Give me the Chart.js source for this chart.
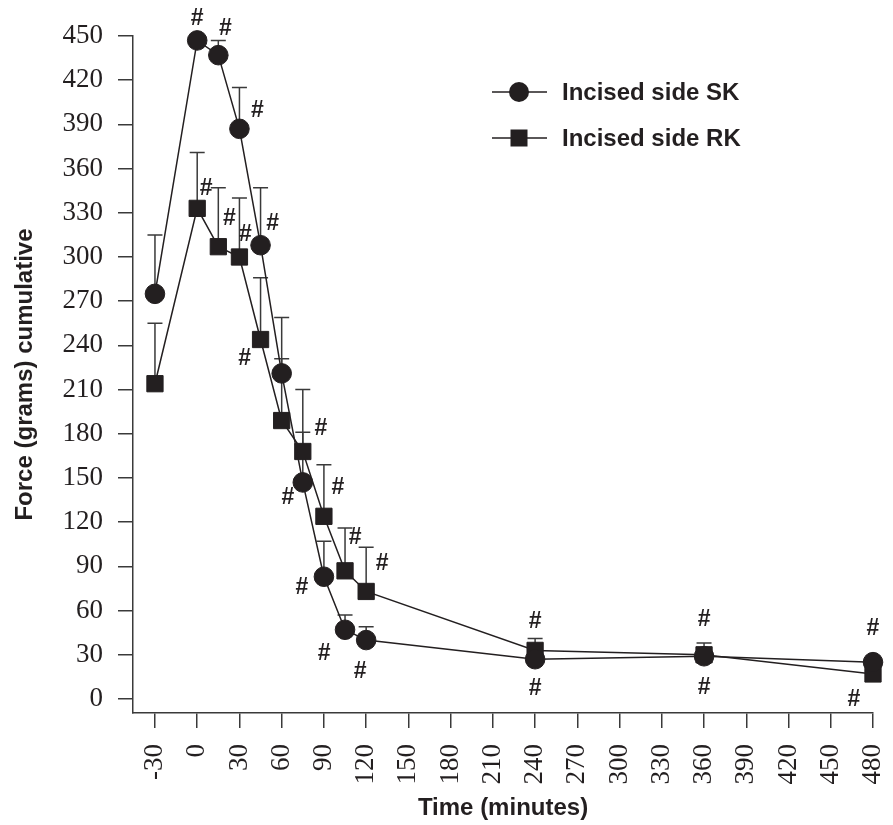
<!DOCTYPE html>
<html>
<head>
<meta charset="utf-8">
<script src="https://cdn.jsdelivr.net/npm/chart.js@4.4.1/dist/chart.umd.min.js"></script>
<style>
html, body { margin: 0; padding: 0; background: #ffffff; }
#wrap { width: 893px; height: 825px; }
</style>
</head>
<body>
<div id="wrap"><canvas id="c" width="893" height="825"></canvas></div>
<script>
// ---- data ----
const times = [-30, 0, 15, 30, 45, 60, 75, 90, 105, 120, 240, 360, 480];
const skValues = [275, 447, 437, 387, 308, 221, 147, 83, 47, 40, 27, 29, 25];
const skErrors = [40, 3, 10, 28, 39, 38, 34, 24, 10, 9, 4, 4, 3];
const rkValues = [214, 333, 307, 300, 244, 189, 168, 124, 87, 73, 33, 30, 17];
const rkErrors = [41, 38, 40, 40, 42, 42, 42, 35, 29, 30, 8, 8, 3];
const skSignificant = [0, 1, 1, 1, 1, 0, 1, 1, 1, 1, 1, 1, 1];
const rkSignificant = [0, 1, 1, 1, 1, 0, 1, 1, 1, 1, 1, 1, 1];
const xTickValues = [-30, 0, 30, 60, 90, 120, 150, 180, 210, 240, 270, 300, 330, 360, 390, 420, 450, 480];
const yTickValues = [0, 30, 60, 90, 120, 150, 180, 210, 240, 270, 300, 330, 360, 390, 420, 450];
const seriesLabels = ['Incised side SK', 'Incised side RK'];
const xTitle = 'Time (minutes)';
const yTitle = 'Force (grams) cumulative';

// ---- styles ----
const INK = '#231f20';
const AXIS = '#3a3a3a';
// pixel offsets of the "#" marks relative to their point (style only)
const skHashOffsets = [null, [0, -22], [7, -26], [18, -18], [12, -22], null, [-15, 15], [-22, 11], [-21, 24], [-6, 32], [0, 29], [0, 31], [0, -34]];
const rkHashOffsets = [null, [9, -20], [11, -28], [6, -22], [-16, 19], null, [18, -23], [14, -29], [10, -33], [16, -28], [0, -29], [0, -35], [-19, 26]];

const errorBarPlugin = {
  id: 'errorBars',
  beforeDatasetsDraw(chart) {
    const ctx = chart.ctx;
    const yScale = chart.scales.y;
    ctx.save();
    ctx.strokeStyle = AXIS;
    ctx.lineWidth = 1.5;
    chart.data.datasets.forEach((ds, di) => {
      const meta = chart.getDatasetMeta(di);
      const errs = ds.errors;
      meta.data.forEach((pt, i) => {
        const v = ds.data[i].y;
        const top = yScale.getPixelForValue(v + errs[i]);
        ctx.beginPath();
        ctx.moveTo(pt.x, pt.y);
        ctx.lineTo(pt.x, top);
        ctx.moveTo(pt.x - 7.5, top);
        ctx.lineTo(pt.x + 7.5, top);
        ctx.stroke();
      });
    });
    ctx.restore();
  }
};

const hashPlugin = {
  id: 'hashMarks',
  afterDatasetsDraw(chart) {
    const ctx = chart.ctx;
    ctx.save();
    ctx.fillStyle = INK;
    ctx.font = 'bold 23px "Liberation Sans", Arial, sans-serif';
    ctx.textAlign = 'center';
    ctx.textBaseline = 'middle';
    chart.data.datasets.forEach((ds, di) => {
      const meta = chart.getDatasetMeta(di);
      meta.data.forEach((pt, i) => {
        if (!ds.significant[i]) return;
        const off = ds.hashOffsets[i] || [0, -24];
        ctx.fillText('#', pt.x + off[0], pt.y + off[1]);
      });
    });
    ctx.restore();
  }
};

const legendPlugin = {
  id: 'customLegend',
  afterDraw(chart) {
    const ctx = chart.ctx;
    const a = chart.chartArea;
    const lineX0 = a.left + 359, lineX1 = a.left + 414, markX = a.left + 386, textX = a.left + 429;
    const rows = [a.top + 56, a.top + 102];
    ctx.save();
    chart.data.datasets.forEach((ds, di) => {
      const y = rows[di];
      ctx.strokeStyle = INK;
      ctx.lineWidth = 1.5;
      ctx.beginPath();
      ctx.moveTo(lineX0, y);
      ctx.lineTo(lineX1, y);
      ctx.stroke();
      ctx.fillStyle = INK;
      if (ds.pointStyle === 'circle') {
        ctx.beginPath();
        ctx.arc(markX, y, 10, 0, Math.PI * 2);
        ctx.fill();
      } else {
        ctx.fillRect(markX - 8.5, y - 8.5, 17, 17);
      }
      ctx.font = 'bold 24px "Liberation Sans", Arial, sans-serif';
      ctx.textAlign = 'left';
      ctx.textBaseline = 'middle';
      ctx.fillText(ds.label, textX, y + 1);
    });
    ctx.restore();
  }
};

const toPoints = (vals) => times.map((t, i) => ({ x: t, y: vals[i] }));

new Chart(document.getElementById('c'), {
  type: 'line',
  data: {
    datasets: [
      {
        label: seriesLabels[0],
        data: toPoints(skValues),
        errors: skErrors,
        significant: skSignificant,
        hashOffsets: skHashOffsets,
        borderColor: INK,
        borderWidth: 1.5,
        pointStyle: 'circle',
        pointRadius: 9.8,
        pointHoverRadius: 9.8,
        pointBackgroundColor: INK,
        pointBorderColor: INK,
        pointBorderWidth: 1,
        tension: 0,
        clip: false
      },
      {
        label: seriesLabels[1],
        data: toPoints(rkValues),
        errors: rkErrors,
        significant: rkSignificant,
        hashOffsets: rkHashOffsets,
        borderColor: INK,
        borderWidth: 1.5,
        pointStyle: 'rect',
        pointRadius: 11.5,
        pointHoverRadius: 11.5,
        pointBackgroundColor: INK,
        pointBorderColor: INK,
        pointBorderWidth: 1,
        tension: 0,
        clip: false
      }
    ]
  },
  options: {
    responsive: false,
    animation: false,
    devicePixelRatio: 1,
    layout: { padding: { left: 0, right: 20, top: 36, bottom: 0 } },
    plugins: {
      legend: { display: false },
      tooltip: { enabled: false }
    },
    scales: {
      x: {
        type: 'linear',
        min: -45.6,
        max: 480,
        afterBuildTicks(scale) { scale.ticks = xTickValues.map(v => ({ value: v })); },
        afterFit(scale) { scale.height = 112; scale.paddingLeft = 0; scale.paddingRight = 0; },
        border: { display: true, color: AXIS, width: 1.5 },
        grid: { display: true, drawOnChartArea: false, drawTicks: true, tickLength: 15, color: AXIS, lineWidth: 1.5 },
        ticks: {
          autoSkip: false,
          maxRotation: 90,
          minRotation: 90,
          padding: 16,
          color: INK,
          font: { family: '"Liberation Serif", "Times New Roman", serif', size: 27 },
          callback: (v) => String(v)
        },
        title: {
          display: true,
          text: xTitle,
          color: INK,
          font: { family: '"Liberation Sans", Arial, sans-serif', size: 24, weight: 'bold' },
          padding: { top: 0, bottom: 2 }
        }
      },
      y: {
        type: 'linear',
        min: -9.5,
        max: 450,
        afterBuildTicks(scale) { scale.ticks = yTickValues.map(v => ({ value: v })); },
        afterFit(scale) { scale.width = 133; scale.paddingTop = 0; scale.paddingBottom = 0; },
        border: { display: true, color: AXIS, width: 1.5 },
        grid: { display: true, drawOnChartArea: false, drawTicks: true, tickLength: 15, color: AXIS, lineWidth: 1.5 },
        ticks: {
          padding: 15,
          color: INK,
          font: { family: '"Liberation Serif", "Times New Roman", serif', size: 27 },
          callback: (v) => String(v)
        },
        title: {
          display: true,
          text: yTitle,
          color: INK,
          font: { family: '"Liberation Sans", Arial, sans-serif', size: 24, weight: 'bold' },
          padding: { top: 11, bottom: 0 }
        }
      }
    }
  },
  plugins: [errorBarPlugin, hashPlugin, legendPlugin]
});
</script>
</body>
</html>
